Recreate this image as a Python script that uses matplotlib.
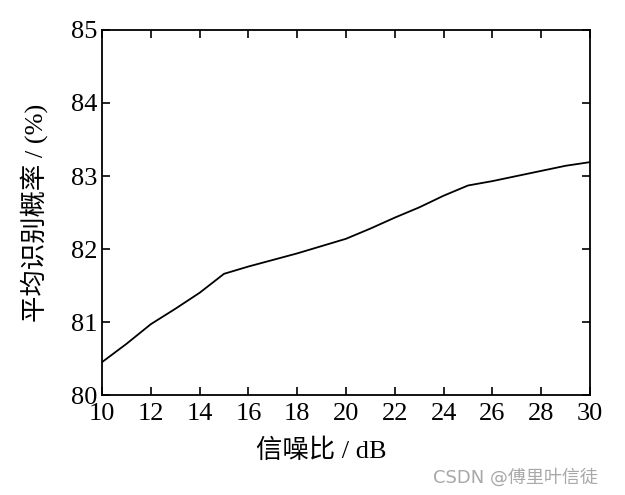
import matplotlib
matplotlib.use("Agg")
import matplotlib.pyplot as plt

snr_db = [10, 11, 12, 13, 14, 15, 16, 17, 18, 19, 20, 21, 22, 23, 24, 25, 26, 27, 28, 29, 30]
avg_rate = [80.45, 80.70, 80.97, 81.18, 81.40, 81.66, 81.76, 81.85, 81.94, 82.04, 82.14,
            82.28, 82.43, 82.57, 82.73, 82.87, 82.93, 83.00, 83.07, 83.14, 83.19]
x_ticks = [10, 12, 14, 16, 18, 20, 22, 24, 26, 28, 30]
y_ticks = [80, 81, 82, 83, 84, 85]

fam = ['Liberation Serif', 'Noto Sans CJK SC']
plt.rcParams['font.family'] = fam

fig = plt.figure(figsize=(6.25, 4.95), dpi=100)
ax = fig.add_axes([0.1632, 0.202, 0.7808, 0.7374])
ax.plot(snr_db, avg_rate, color='black', linewidth=1.3)
ax.set_xlim(10, 30)
ax.set_ylim(80, 85)
ax.set_xticks(x_ticks)
ax.set_yticks(y_ticks)
ax.tick_params(direction='in', length=6, width=1.2, top=True, right=True,
               labelsize=19, colors='black')
ax.tick_params(axis='x', pad=6)
ax.tick_params(axis='y', pad=3)
for s in ax.spines.values():
    s.set_linewidth(1.3)

ax.set_xlabel('信噪比 / dB', fontsize=19, family=fam)
ax.xaxis.set_label_coords(0.45, -0.12)
ax.set_ylabel('平均识别概率 / (%)', fontsize=19, family=fam)
ax.yaxis.set_label_coords(-0.11, 0.5)

fig.text(0.957, 0.036, 'CSDN @傅里叶信徒', ha='right', va='center', fontsize=13,
         color='#a8a8a8', family=['DejaVu Sans', 'Noto Sans CJK SC'])

fig.savefig('out.png', dpi=100)
